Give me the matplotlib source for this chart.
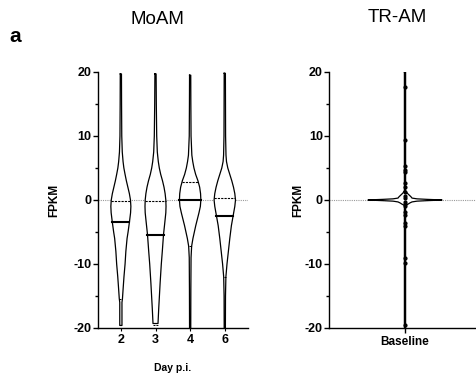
"""
Violin plots of FPKM changes, MoAM vs TR-AM
"""
import numpy as np
import matplotlib.pyplot as plt

plt.rcParams['font.family'] = ['Liberation Sans', 'DejaVu Sans']
plt.rcParams['axes.unicode_minus'] = False

# MoAM groups
days = ['2', '3', '4', '6']

# violin outlines: y level and half width (pixels of density)
v2_y = [19.7, 15, 10, 7.5, 6, 5, 4, 3, 2, 1, 0, -1, -2, -3.4, -5, -6, -8, -10, -12, -14, -15.4, -16, -19.6]
v2_w = [0.6, 0.7, 0.9, 1.4, 2.2, 3.0, 4.2, 5.5, 7.0, 8.5, 9.6, 10.0, 9.7, 8.6, 7.2, 6.2, 5.0, 4.2, 3.1, 2.2, 1.6, 1.1, 1.1]

v3_y = [19.7, 15, 10, 7.5, 6, 5, 4, 3, 2, 1, 0, -1, -2, -3.5, -5.4, -8, -10, -13, -15, -17, -19.3]
v3_w = [0.6, 0.8, 1.2, 1.8, 2.8, 3.8, 5.2, 7.0, 8.5, 9.6, 10.3, 10.5, 10.3, 9.3, 8.0, 6.8, 5.8, 4.6, 3.9, 3.2, 2.5]

v4_y = [19.5, 15, 10, 7, 6, 5, 4, 3, 2, 1, 0, -1, -2, -3, -4, -5, -6, -7.2, -9, -14, -20]
v4_w = [0.6, 0.7, 0.9, 1.7, 2.6, 3.8, 5.5, 7.8, 9.5, 10.4, 10.7, 10.2, 8.8, 7.2, 5.6, 4.2, 2.8, 1.5, 0.9, 0.7, 0.6]

v6_y = [19.8, 15, 10, 7, 6, 5, 4, 3, 2, 1, 0, -1, -2.5, -4, -6, -8, -10, -12, -15, -20]
v6_w = [0.6, 0.7, 0.8, 1.2, 1.7, 3.0, 5.0, 7.0, 8.7, 10.0, 10.7, 10.0, 8.3, 6.6, 5.0, 3.6, 2.2, 1.1, 0.7, 0.6]

moam_y = [v2_y, v3_y, v4_y, v6_y]
moam_w = [v2_w, v3_w, v4_w, v6_w]

# quartiles: lower, median, upper
moam_q1 = [-15.4, -19.5, -7.2, -12.0]
moam_med = [-3.4, -5.4, 0.0, -2.45]
moam_q3 = [-0.2, -0.2, 2.85, 0.35]

# TR-AM baseline
base_y = [20, 1.5, 1.1, 0.8, 0.5, 0.3, 0.18, 0.1, 0.04, 0, -0.04, -0.1, -0.18, -0.3, -0.45, -0.65, -0.85, -20]
base_w = [0.6, 0.6, 2.0, 4.0, 6.0, 7.0, 12, 22, 32, 37, 32, 22, 12, 7, 5, 3, 0.6, 0.6]
base_pts = [17.6, 9.4, 5.3, 4.7, 4.3, 2.7, 2.1, 1.2, 0.6, 0.3, -0.3, -0.6, -1.0,
            -1.8, -2.3, -3.6, -4.1, -9.1, -9.8, -19.5]


def draw_violin(ax, pos, ys, ws, scale, q=None):
    ys = np.asarray(ys, float)
    ws = np.asarray(ws, float) * scale
    ax.fill_betweenx(ys, pos - ws, pos + ws, facecolor='white', edgecolor='none', zorder=2)
    ax.plot(np.r_[pos - ws, (pos + ws)[::-1], pos - ws[0]],
            np.r_[ys, ys[::-1], ys[0]], color='black', lw=0.9, zorder=3)
    if q is None:
        return
    lo, med, hi = q
    order = np.argsort(ys)
    for val, ls, lw in [(lo, (0, (2, 1)), 0.7), (hi, (0, (2, 1)), 0.8), (med, '-', 1.5)]:
        hw = np.interp(val, ys[order], ws[order])
        ax.plot([pos - hw, pos + hw], [val, val], color='black', ls=ls, lw=lw, zorder=4)


def style_axis(ax):
    ax.spines['top'].set_visible(False)
    ax.spines['right'].set_visible(False)
    ax.spines['left'].set_linewidth(1.0)
    ax.spines['bottom'].set_linewidth(1.0)
    ax.set_ylim(-20, 20)
    ax.set_yticks([-20, -10, 0, 10, 20])
    ax.set_yticks([-15, -5, 5, 15], minor=True)
    ax.tick_params(axis='y', which='major', length=3.5, width=1.0, labelsize=9, pad=1)
    ax.tick_params(axis='y', which='minor', length=2.5, width=1.0)
    for t in ax.get_yticklabels():
        t.set_fontweight('bold')
    ax.axhline(0, color='#9a9a9a', ls=(0, (1, 1)), lw=0.8, zorder=1)
    ax.set_ylabel('FPKM', fontsize=8.5, fontweight='bold')


fig = plt.figure(figsize=(4.77, 3.76), dpi=100)
ax1 = fig.add_axes([98 / 477, 1 - 328 / 376, 150 / 477, 256 / 376])
ax2 = fig.add_axes([329 / 477, 1 - 328 / 376, 148 / 477, 256 / 376])

# left panel
px1 = 1 / 34.6
for i in range(len(days)):
    draw_violin(ax1, i, moam_y[i], moam_w[i], px1, (moam_q1[i], moam_med[i], moam_q3[i]))
style_axis(ax1)
ax1.set_xlim(-0.66, 3.67)
ax1.set_xticks(range(len(days)))
ax1.set_xticklabels(days, fontsize=9, fontweight='bold')
ax1.tick_params(axis='x', length=2, width=0.8, pad=2)
ax1.set_xlabel('Day p.i.', fontsize=7.5, fontweight='bold')
ax1.xaxis.set_label_coords(0.5, -0.135)
ax1.yaxis.set_label_coords(-0.253, 0.5)

# right panel
px2 = 1 / 100
draw_violin(ax2, 0, base_y, base_w, px2)
ax2.plot(np.zeros(len(base_pts)), base_pts, 'o', color='black', ms=2.0, zorder=5)
style_axis(ax2)
ax2.set_xlim(-0.76, 0.72)
ax2.set_xticks([0])
ax2.set_xticklabels(['Baseline'], fontsize=8.5, fontweight='bold')
ax2.tick_params(axis='x', length=3.5, width=1.0, pad=2)
ax2.yaxis.set_label_coords(-0.169, 0.5)

fig.text(157 / 477, 1 - 19 / 376, 'MoAM', fontsize=13.5, ha='center', va='center')
fig.text(397 / 477, 1 - 18 / 376, 'TR-AM', fontsize=13.5, ha='center', va='center')
fig.text(15 / 477, 1 - 37 / 376, 'a', fontsize=15, fontweight='bold', ha='center', va='center')

plt.savefig('out.png', dpi=100)
plt.close()
